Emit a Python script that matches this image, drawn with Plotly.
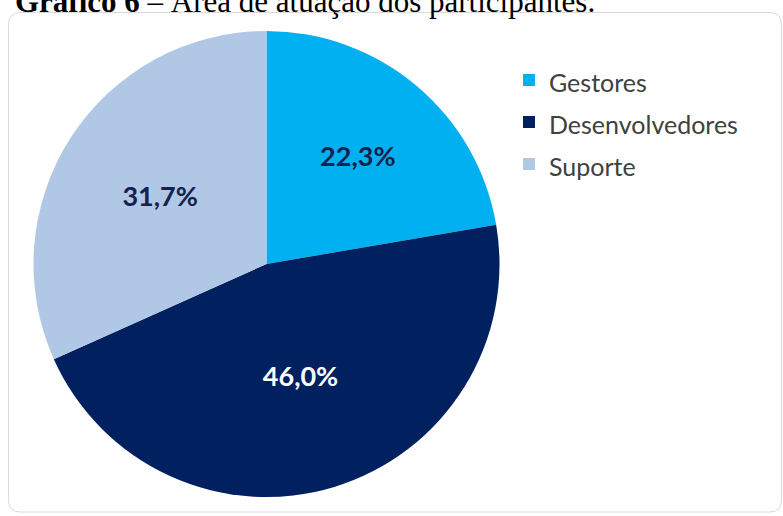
import plotly.graph_objects as go

categories = ["Gestores", "Desenvolvedores", "Suporte"]
values = [22.3, 46.0, 31.7]
colors = ["#00B0F0", "#002060", "#B0C7E6"]
label_colors = ["#14224d", "#FFFFFF", "#14224d"]
title_text = "<b>Gráfico 6</b> – Área de atuação dos participantes."

W, H = 783, 516

def px(x):
    return x / W

def py(y):
    return 1 - y / H

legend_names = ["<span style='font-size:25px'>%s</span>" % c for c in categories]

fig = go.Figure(go.Pie(
    labels=legend_names,
    values=values,
    sort=False,
    direction="clockwise",
    rotation=0,
    marker=dict(colors=colors, line=dict(width=0)),
    texttemplate="%{value:.1f}%",
    textposition="inside",
    insidetextorientation="horizontal",
    textfont=dict(family="Lato", size=27, color=label_colors, weight="bold"),
    hoverinfo="label+percent",
    domain=dict(x=[px(33), px(500)], y=[py(497), py(31)]),
))

# rounded chart-area border
x0, x1, y0, y1, r = 8.5, 781.5, 12.5, 512, 12
path = (
    f"M {px(x0 + r)},{py(y0)} L {px(x1 - r)},{py(y0)} "
    f"Q {px(x1)},{py(y0)} {px(x1)},{py(y0 + r)} "
    f"L {px(x1)},{py(y1 - r)} Q {px(x1)},{py(y1)} {px(x1 - r)},{py(y1)} "
    f"L {px(x0 + r)},{py(y1)} Q {px(x0)},{py(y1)} {px(x0)},{py(y1 - r)} "
    f"L {px(x0)},{py(y0 + r)} Q {px(x0)},{py(y0)} {px(x0 + r)},{py(y0)} Z"
)

fig.update_layout(
    width=W, height=H,
    margin=dict(l=0, r=0, t=0, b=0),
    paper_bgcolor="white",
    separators=",.",
    showlegend=True,
    legend=dict(
        x=px(509), xanchor="left",
        y=py(54), yanchor="top",
        font=dict(family="Lato", size=30, color="#404040"),
        bgcolor="rgba(0,0,0,0)",
    ),
    shapes=[dict(type="path", path=path, xref="paper", yref="paper",
                 line=dict(color="#D9D9D9", width=1), layer="below")],
    annotations=[dict(
        text=title_text, x=px(13), y=py(1), xref="paper", yref="paper",
        xanchor="left", yanchor="middle", showarrow=False,
        font=dict(family="Liberation Serif", size=31, color="black"),
    )],
)

fig.write_html("out.html", config={"displayModeBar": False},
               post_script="document.body.style.margin='0';")
